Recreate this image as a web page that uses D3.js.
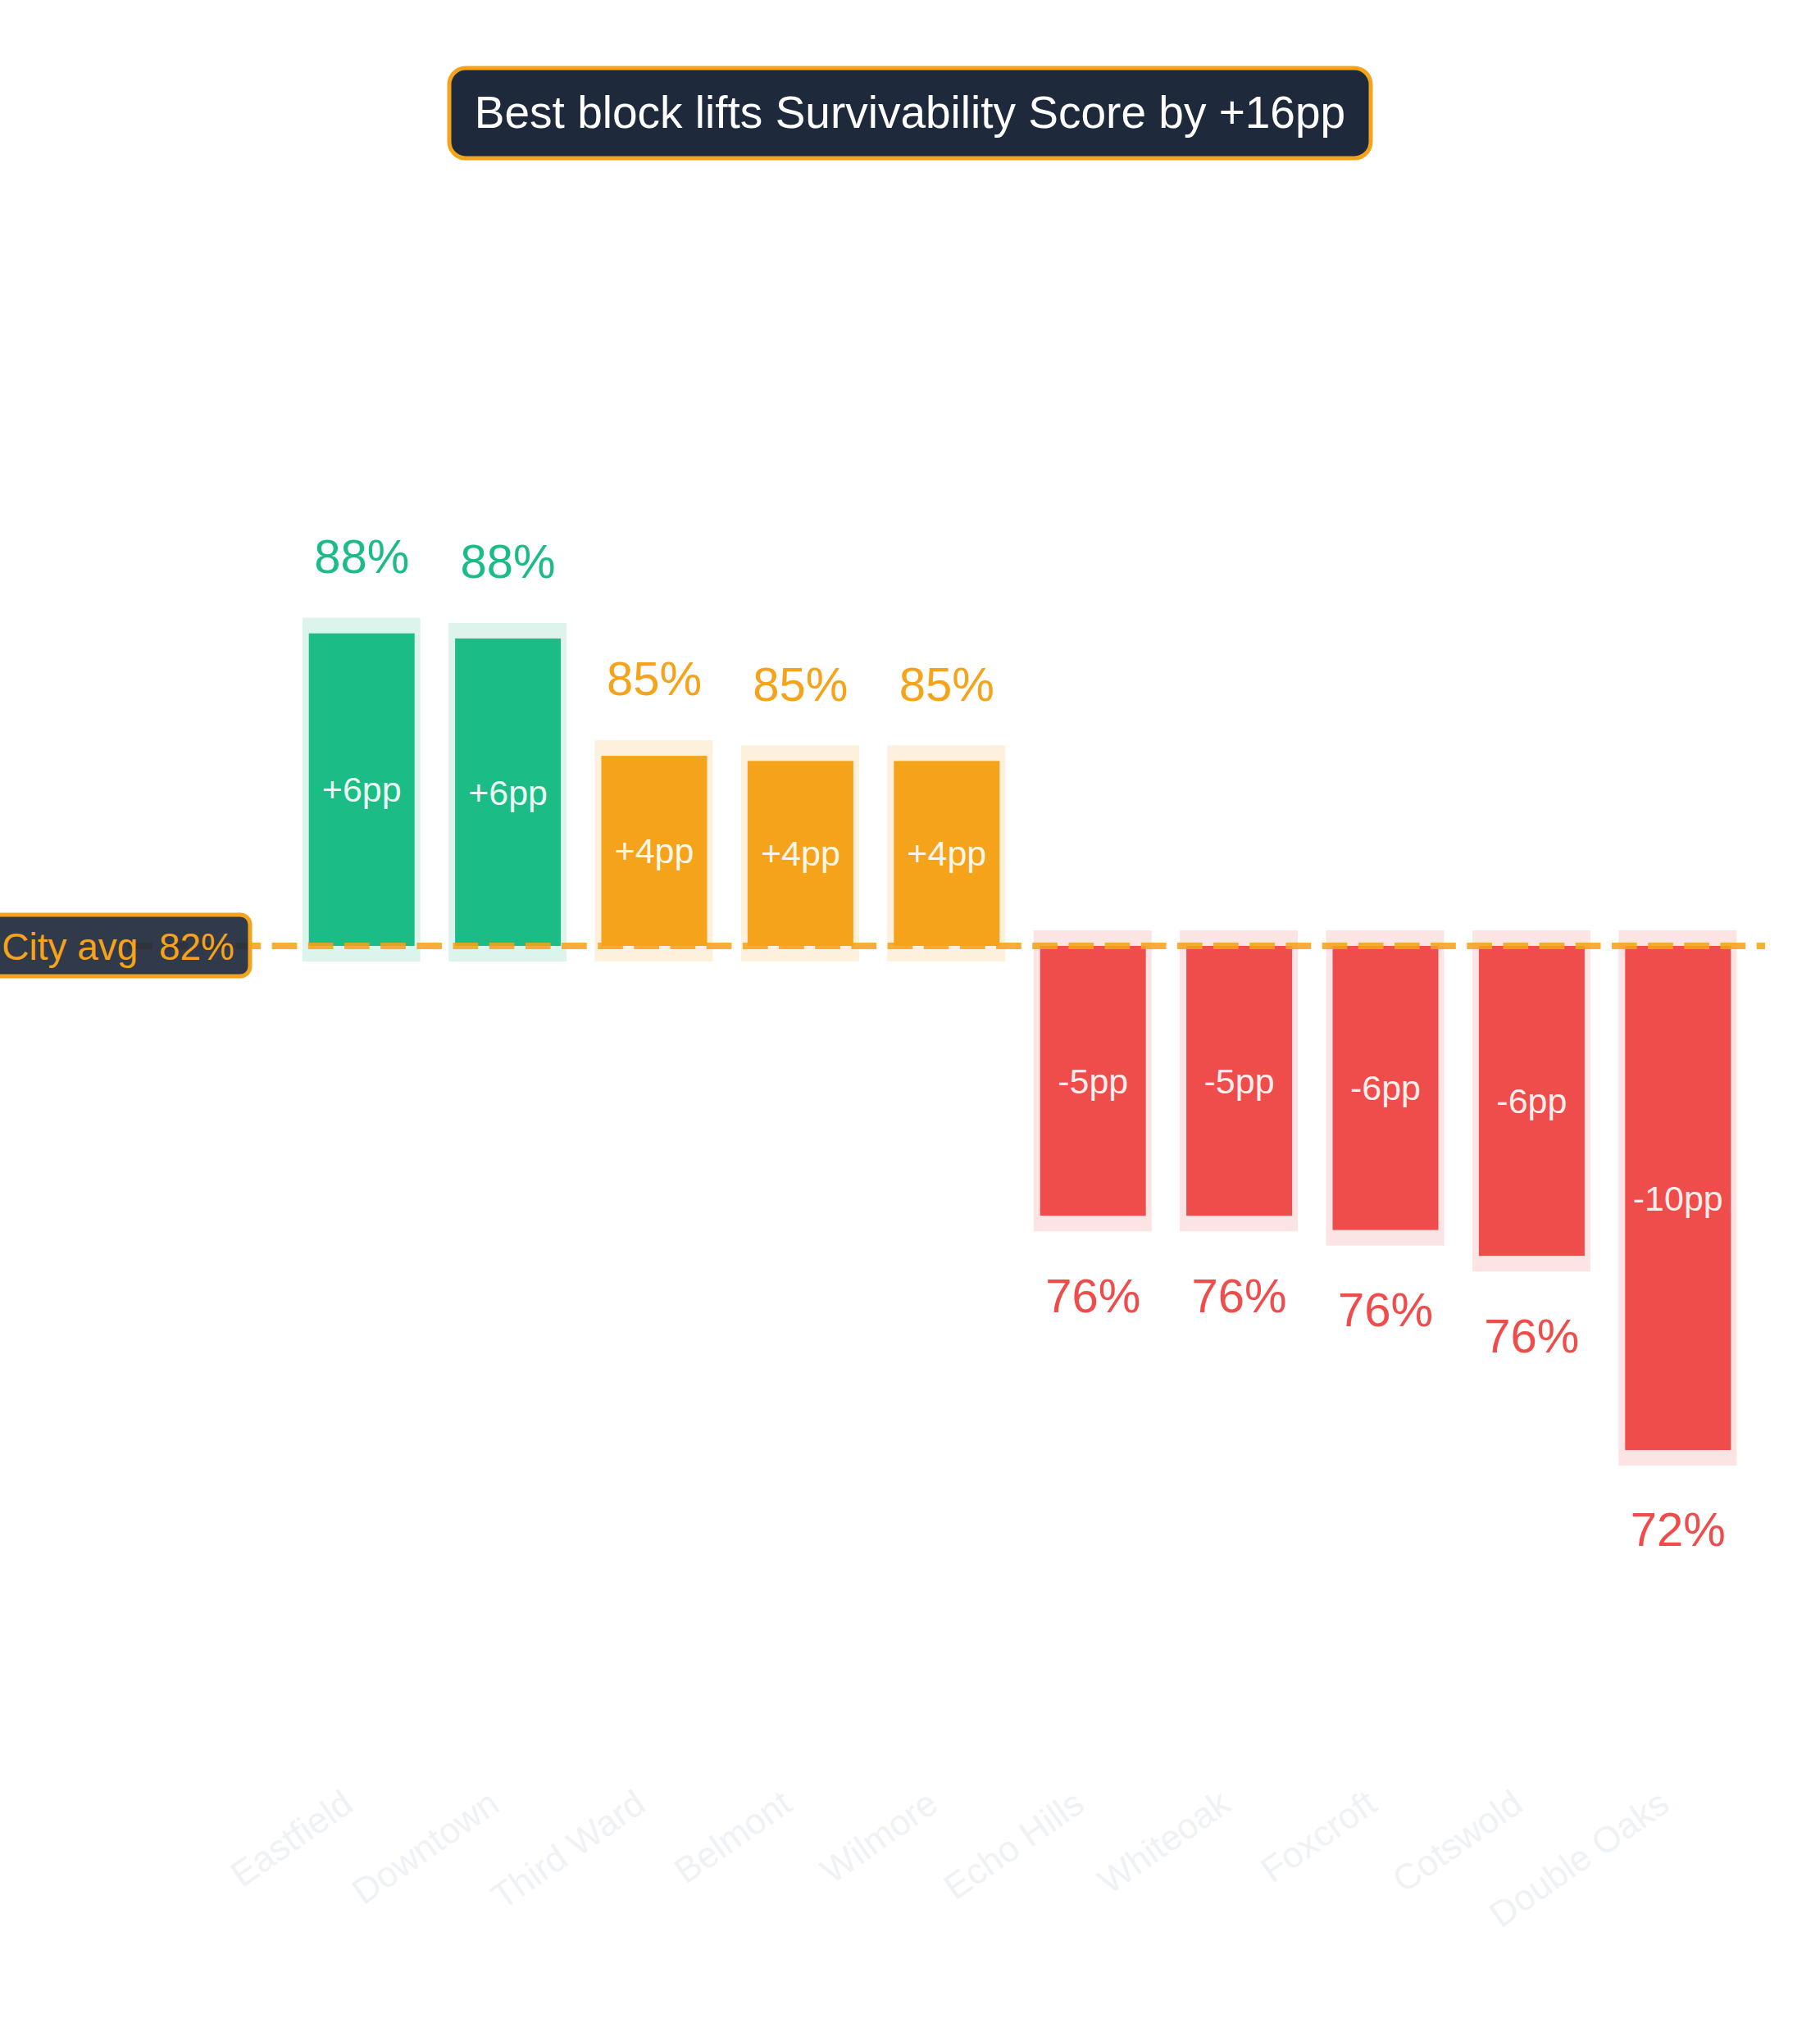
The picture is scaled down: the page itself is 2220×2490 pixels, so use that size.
<!DOCTYPE html>
<html>
<head>
<meta charset="utf-8">
<script src="https://cdn.jsdelivr.net/npm/d3@7"></script>
<style>
  html, body { margin: 0; padding: 0; background: #fff; }
  svg { display: block; font-family: "Liberation Sans", Arial, Helvetica, sans-serif; }
</style>
</head>
<body>
<div id="chart"></div>
<script>
// data
var neighborhoods = ["Eastfield", "Downtown", "Third Ward", "Belmont", "Wilmore",
                     "Echo Hills", "Whiteoak", "Foxcroft", "Cotswold", "Double Oaks"]
var scores = [87.85, 87.75, 85.44, 85.34, 85.34, 76.39, 76.39, 76.11, 75.60, 71.78]
var cityAvg = 81.7
var titleText = "Best block lifts Survivability Score by +16pp"
var avgLabel = "City avg  " + Math.round(cityAvg) + "%"

var width = 2220, height = 2490
var baseY = 1154, pxPerPoint = 62.0

var GREEN = "#1bbc86", ORANGE = "#f4a31a", RED = "#ef4d4b"
var TINT = { "#1bbc86": "#dcf4ec", "#f4a31a": "#fdf0dc", "#ef4d4b": "#fce3e4" }

function tier(v) {
  var d = v - cityAvg
  if (d >= 5) return GREEN
  if (d > 0) return ORANGE
  return RED
}

var svg = d3.select("#chart").append("svg")
  .attr("width", width)
  .attr("height", height)

var x = d3.scaleBand()
  .domain(neighborhoods)
  .range([352, 2136])
  .padding(0)

var y = d3.scaleLinear()
  .domain([65, 95])
  .range([baseY + (cityAvg - 65) * pxPerPoint, baseY - (95 - cityAvg) * pxPerPoint])

var barW = x.bandwidth() * 0.723
  , rows = neighborhoods.map(function(n, i) { return { name: n, v: scores[i] } })

function cx(d) { return x(d.name) + x.bandwidth() / 2 }

// halo rects behind bars
svg.append("g").selectAll("rect")
  .data(rows).enter().append("rect")
    .attr("x", function(d) { return cx(d) - barW / 2 - 8 })
    .attr("y", function(d) { return Math.min(y(d.v), y(cityAvg)) - 19 })
    .attr("width", barW + 15)
    .attr("height", function(d) { return Math.abs(y(d.v) - y(cityAvg)) + 38 })
    .attr("fill", function(d) { return TINT[tier(d.v)] })

// bars
svg.append("g").selectAll("rect")
  .data(rows).enter().append("rect")
    .attr("x", function(d) { return cx(d) - barW / 2 })
    .attr("y", function(d) { return Math.min(y(d.v), y(cityAvg)) })
    .attr("width", barW)
    .attr("height", function(d) { return Math.abs(y(d.v) - y(cityAvg)) })
    .attr("fill", function(d) { return tier(d.v) })

// delta labels inside bars
svg.append("g").selectAll("text")
  .data(rows).enter().append("text")
    .attr("x", cx)
    .attr("y", function(d) { return (y(d.v) + y(cityAvg)) / 2 })
    .attr("dy", "0.35em")
    .attr("text-anchor", "middle")
    .attr("fill", "#fff")
    .attr("fill-opacity", 0.92)
    .style("font-size", "43px")
    .text(function(d) {
      var p = Math.round(d.v - cityAvg)
      return (p > 0 ? "+" : "") + p + "pp"
    })

// value labels
svg.append("g").selectAll("text")
  .data(rows).enter().append("text")
    .attr("x", cx)
    .attr("y", function(d) { return y(d.v) + (d.v >= cityAvg ? -94 : 97) })
    .attr("dy", "0.35em")
    .attr("text-anchor", "middle")
    .attr("fill", function(d) { return tier(d.v) })
    .style("font-size", "58px")
    .text(function(d) { return Math.round(d.v) + "%" })

// city average line
svg.append("line")
  .attr("x1", 155)
  .attr("x2", 2153)
  .attr("y1", y(cityAvg))
  .attr("y2", y(cityAvg))
  .attr("stroke", ORANGE)
  .attr("stroke-opacity", 0.88)
  .attr("stroke-width", 8)
  .attr("stroke-dasharray", "30.7,13.47")

// avg badge
var badge = svg.append("g")
badge.append("rect")
  .attr("x", -20)
  .attr("y", y(cityAvg) - 38)
  .attr("width", 325)
  .attr("height", 75)
  .attr("rx", 12)
  .attr("fill", "#1e293b")
  .attr("fill-opacity", 0.92)
  .attr("stroke", ORANGE)
  .attr("stroke-width", 5)
badge.append("text")
  .attr("x", 286)
  .attr("y", y(cityAvg))
  .attr("dy", "0.36em")
  .attr("text-anchor", "end")
  .attr("fill", ORANGE)
  .style("font-size", "46px")
  .attr("xml:space", "preserve")
  .text(avgLabel)

// x axis (labels nearly invisible)
var xAxis = svg.append("g")
  .attr("transform", "translate(0,2207)")
  .call(d3.axisBottom(x).tickSize(0).tickPadding(0))
xAxis.select(".domain").remove()
xAxis.selectAll("text")
  .attr("fill", "#eff2f5")
  .style("font-size", "44px")
  .style("font-family", "'Liberation Sans', Arial, sans-serif")
  .attr("text-anchor", "end")
  .attr("dy", 0)
  .attr("transform", "translate(-8,0) rotate(-35)")

// title badge
var tb = svg.append("g")
tb.append("rect")
  .attr("x", 548)
  .attr("y", 83)
  .attr("width", 1124)
  .attr("height", 110)
  .attr("rx", 20)
  .attr("fill", "#1e293b")
  .attr("stroke", ORANGE)
  .attr("stroke-width", 5)
tb.append("text")
  .attr("x", 1110)
  .attr("y", 136)
  .attr("dy", "0.36em")
  .attr("text-anchor", "middle")
  .attr("fill", "#fff")
  .style("font-size", "55px")
  .text(titleText)
</script>
</body>
</html>
